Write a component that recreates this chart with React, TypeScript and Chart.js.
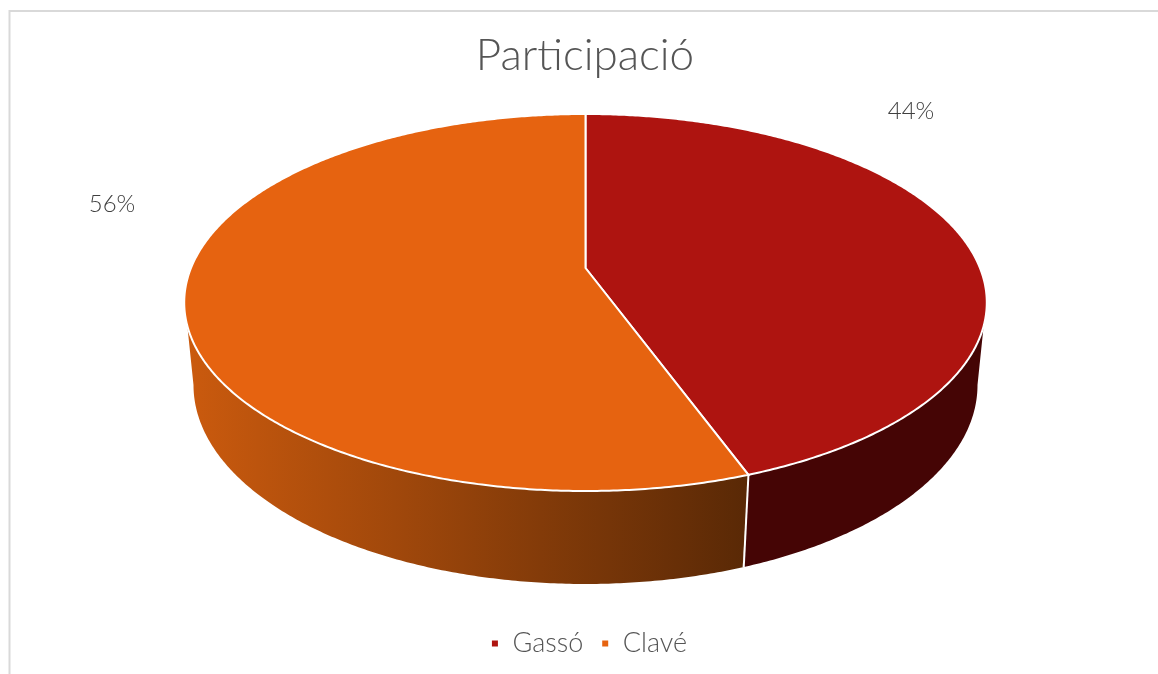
import React, { useEffect, useRef } from "react";
import { Chart, registerables } from "chart.js";

Chart.register(...registerables);

const categories = ["Gassó", "Clavé"];
const values = [4, 5];
const faceColors = ["#AE1410", "#E66310"];
const FONT = "'Lato', 'Open Sans', sans-serif";

// projective view of the pie disc: upper face and lower face
const top = { cx: 585.5, cy: 268, a: 394.5, b: 182.2, k: 0.183 };
const bottom = { cx: 585.5, cy: 351.2, a: 386.3, b: 193.2, k: 0.17 };
type View = typeof top;

// silhouette limits of the side wall (clockwise from 12 o'clock)
const deg = Math.PI / 180;
const base = -Math.PI / 2;
const limits = {
  top: [base + 107.5 * deg, base + 252.5 * deg],
  bottom: [base + 99.8 * deg, base + 260.2 * deg],
};

const clamp = (v: number, lo: number, hi: number) => Math.min(hi, Math.max(lo, v));

const project = (view: View, angle: number) => {
  const theta = angle + Math.PI / 2;
  const u = Math.sin(theta);
  const v = -Math.cos(theta);
  const w = 1 - view.k * v;
  return { x: view.cx + (view.a * u) / w, y: view.cy + (view.b * v) / w };
};

const rim = (ctx: CanvasRenderingContext2D, view: View, from: number, to: number) => {
  const steps = Math.max(8, Math.ceil(Math.abs(to - from) * 120));
  for (let i = 0; i <= steps; i++) {
    const p = project(view, from + ((to - from) * i) / steps);
    ctx.lineTo(p.x, p.y);
  }
};

const disc3d = {
  id: "disc3d",
  afterLayout(chart: any) {
    chart.legend.left += 4;
    chart.legend.right += 4;
  },
  beforeDraw(chart: any) {
    const { ctx, width, height } = chart;
    ctx.save();
    ctx.fillStyle = "#ffffff";
    ctx.fillRect(0, 0, width, height);
    ctx.strokeStyle = "#D9D9D9";
    ctx.lineWidth = 2;
    ctx.beginPath();
    ctx.moveTo(9.5, height + 2);
    ctx.lineTo(9.5, 11);
    ctx.lineTo(width + 2, 11);
    ctx.stroke();
    ctx.restore();
  },
  beforeDatasetDraw(chart: any) {
    const { ctx } = chart;
    const arcs = chart.getDatasetMeta(0).data;
    ctx.save();

    const wallGrad = ctx.createLinearGradient(190, 0, 745, 0);
    wallGrad.addColorStop(0, "#CA5A0E");
    wallGrad.addColorStop(1, "#5A2906");
    const wallFills = ["#450505", wallGrad];

    arcs.forEach((arc: any, i: number) => {
      const ts = clamp(arc.startAngle, limits.top[0], limits.top[1]);
      const te = clamp(arc.endAngle, limits.top[0], limits.top[1]);
      const bs = clamp(arc.startAngle, limits.bottom[0], limits.bottom[1]);
      const be = clamp(arc.endAngle, limits.bottom[0], limits.bottom[1]);
      ctx.beginPath();
      rim(ctx, top, ts, te);
      rim(ctx, bottom, be, bs);
      ctx.closePath();
      ctx.fillStyle = wallFills[i];
      ctx.fill();
    });

    ctx.strokeStyle = "#ffffff";
    ctx.lineWidth = 2;
    arcs.forEach((arc: any) => {
      const a = project(top, arc.endAngle);
      const b = project(bottom, arc.endAngle);
      if (a.y > top.cy && b.y > a.y) {
        ctx.beginPath();
        ctx.moveTo(a.x, a.y);
        ctx.lineTo(b.x + 1, b.y);
        ctx.stroke();
      }
    });

    arcs.forEach((arc: any, i: number) => {
      ctx.beginPath();
      ctx.moveTo(top.cx, top.cy);
      rim(ctx, top, arc.startAngle, arc.endAngle);
      ctx.closePath();
      ctx.fillStyle = faceColors[i];
      ctx.fill();
      ctx.stroke();
    });

    const total = values.reduce((s, v) => s + v, 0);
    const labelSpots = [
      { x: 911, y: 111 },
      { x: 112, y: 204 },
    ];
    ctx.fillStyle = "#404040";
    ctx.font = `300 24px ${FONT}`;
    ctx.textAlign = "center";
    ctx.textBaseline = "middle";
    values.forEach((v, i) => {
      ctx.fillText(`${Math.round((v / total) * 100)}%`, labelSpots[i].x, labelSpots[i].y);
    });

    ctx.restore();
    return false;
  },
};

export default function App() {
  const ref = useRef<HTMLCanvasElement>(null);
  useEffect(() => {
    const chart = new Chart(ref.current!, {
      type: "pie",
      data: {
        labels: categories,
        datasets: [{ data: values, backgroundColor: faceColors, borderColor: "#ffffff", borderWidth: 2 }],
      },
      options: {
        animation: false,
        responsive: false,
        layout: { padding: { left: 12, top: 29, bottom: 7 } },
        plugins: {
          tooltip: { enabled: false },
          title: {
            display: true,
            text: "Participació",
            color: "#555555",
            font: { family: FONT, size: 44, weight: "300" },
            padding: 0,
          },
          legend: {
            display: true,
            position: "bottom",
            labels: {
              color: "#555555",
              font: { family: FONT, size: 27, weight: "300" },
              boxWidth: 8,
              boxHeight: 8,
              padding: 18,
            },
          },
        },
      } as any,
      plugins: [disc3d],
    });
    return () => chart.destroy();
  }, []);
  return (
    <div style={{ position: "absolute", left: 0, top: 0, width: 1158, height: 674, overflow: "hidden" }}>
      <canvas ref={ref} width={1158} height={674} style={{ display: "block" }} />
    </div>
  );
}
